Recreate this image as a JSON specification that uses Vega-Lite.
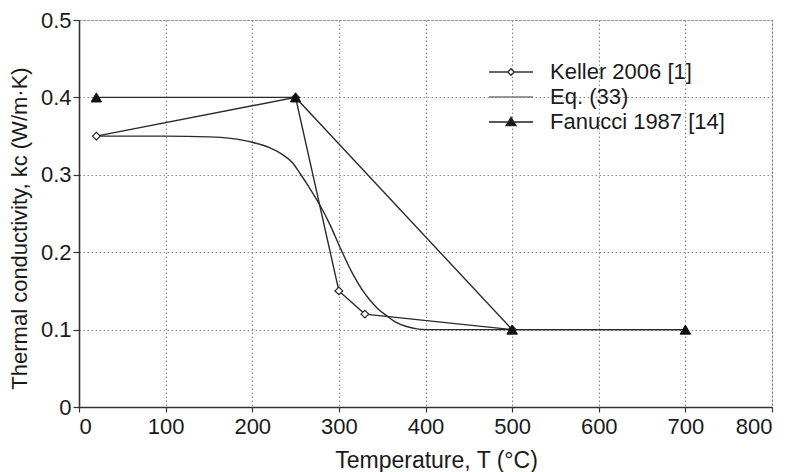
{
  "$schema": "https://vega.github.io/schema/vega-lite/v6.json",
  "width": 693,
  "height": 387,
  "autosize": {"type": "none"},
  "padding": {"left": 79, "top": 20, "right": 22, "bottom": 65},
  "background": "white",
  "config": {
    "font": "Liberation Sans",
    "view": {"stroke": "#555", "strokeDash": [2, 2], "strokeWidth": 1},
    "axis": {
      "labelFont": "Liberation Sans",
      "titleFont": "Liberation Sans",
      "labelColor": "#1a1a1a",
      "titleColor": "#1a1a1a",
      "labelFontSize": 22,
      "titleFontSize": 23,
      "titleFontWeight": "normal",
      "domainColor": "#333",
      "domainWidth": 1.6,
      "tickColor": "#333",
      "tickWidth": 1.2,
      "gridColor": "#888",
      "gridDash": [1.5, 2.5],
      "gridWidth": 1
    }
  },
  "datasets": {
    "curves": [
      {"series": "Keller 2006 [1]", "T": 20, "k": 0.35},
      {"series": "Keller 2006 [1]", "T": 250, "k": 0.40},
      {"series": "Keller 2006 [1]", "T": 300, "k": 0.15},
      {"series": "Keller 2006 [1]", "T": 330, "k": 0.12},
      {"series": "Keller 2006 [1]", "T": 500, "k": 0.10},
      {"series": "Fanucci 1987 [14]", "T": 20, "k": 0.40},
      {"series": "Fanucci 1987 [14]", "T": 250, "k": 0.40},
      {"series": "Fanucci 1987 [14]", "T": 500, "k": 0.10},
      {"series": "Fanucci 1987 [14]", "T": 700, "k": 0.10},
      {"series": "Eq. (33)", "T": 20, "k": 0.350},
      {"series": "Eq. (33)", "T": 100, "k": 0.350},
      {"series": "Eq. (33)", "T": 150, "k": 0.349},
      {"series": "Eq. (33)", "T": 175, "k": 0.347},
      {"series": "Eq. (33)", "T": 200, "k": 0.342},
      {"series": "Eq. (33)", "T": 220, "k": 0.335},
      {"series": "Eq. (33)", "T": 235, "k": 0.326},
      {"series": "Eq. (33)", "T": 247, "k": 0.315},
      {"series": "Eq. (33)", "T": 255, "k": 0.302},
      {"series": "Eq. (33)", "T": 265, "k": 0.285},
      {"series": "Eq. (33)", "T": 278, "k": 0.261},
      {"series": "Eq. (33)", "T": 290, "k": 0.235},
      {"series": "Eq. (33)", "T": 301, "k": 0.207},
      {"series": "Eq. (33)", "T": 316, "k": 0.172},
      {"series": "Eq. (33)", "T": 326, "k": 0.153},
      {"series": "Eq. (33)", "T": 336, "k": 0.138},
      {"series": "Eq. (33)", "T": 345, "k": 0.127},
      {"series": "Eq. (33)", "T": 355, "k": 0.118},
      {"series": "Eq. (33)", "T": 365, "k": 0.110},
      {"series": "Eq. (33)", "T": 378, "k": 0.104},
      {"series": "Eq. (33)", "T": 390, "k": 0.101},
      {"series": "Eq. (33)", "T": 400, "k": 0.100},
      {"series": "Eq. (33)", "T": 500, "k": 0.100},
      {"series": "Eq. (33)", "T": 700, "k": 0.100}
    ]
  },
  "data": {"name": "curves"},
  "encoding": {
    "x": {
      "field": "T",
      "type": "quantitative",
      "scale": {"domain": [0, 800], "nice": false},
      "axis": {
        "title": "Temperature, T (°C)",
        "values": [0, 100, 200, 300, 400, 500, 600, 700, 800],
        "tickSize": 5,
        "labelPadding": 4,
        "titleX": 357,
        "titleY": 60,
        "titleBaseline": "alphabetic",
        "titleAnchor": null
      }
    },
    "y": {
      "field": "k",
      "type": "quantitative",
      "scale": {"domain": [0, 0.5], "nice": false},
      "axis": {
        "title": "Thermal conductivity, kc (W/m·K)",
        "values": [0, 0.1, 0.2, 0.3, 0.4, 0.5],
        "labelExpr": "datum.value == 0 ? '0' : format(datum.value, '.1f')",
        "tickSize": 6,
        "labelPadding": 2,
        "titleFontSize": 22,
        "titleX": -53,
        "titleY": 208,
        "titleBaseline": "alphabetic",
        "titleAngle": -90
      }
    }
  },
  "layer": [
    {
      "transform": [{"filter": "datum.series === 'Eq. (33)'"}],
      "mark": {"type": "line", "interpolate": "monotone", "stroke": "#2a2a2a", "strokeWidth": 1.4},
      "encoding": {}
    },
    {
      "transform": [{"filter": "datum.series !== 'Eq. (33)'"}],
      "mark": {"type": "line", "stroke": "#2a2a2a", "strokeWidth": 1.4},
      "encoding": {"detail": {"field": "series"}}
    },
    {
      "transform": [{"filter": "datum.series === 'Keller 2006 [1]'"}],
      "mark": {"type": "point", "shape": "diamond", "size": 60, "filled": true, "fill": "white", "stroke": "#222", "strokeWidth": 1.2, "opacity": 1},
      "encoding": {}
    },
    {
      "transform": [{"filter": "datum.series === 'Fanucci 1987 [14]'"}],
      "mark": {"type": "point", "shape": "triangle-up", "size": 110, "filled": true, "fill": "#111", "stroke": "#111", "strokeWidth": 1, "opacity": 1},
      "encoding": {}
    },
    {
      "mark": {"type": "point", "opacity": 0, "strokeWidth": 1.5},
      "encoding": {
        "shape": {
          "field": "series",
          "type": "nominal",
          "scale": {
            "domain": ["Keller 2006 [1]", "Eq. (33)", "Fanucci 1987 [14]"],
            "range": [
              "M-3.67,0L-0.55,0M0.55,0L3.67,0M-0.55,0L0,-0.55L0.55,0L0,0.55Z",
              "M-3.67,0L3.67,0",
              "M-3.67,0L3.67,0M-0.8,0.6L0,-0.75L0.8,0.6Z"
            ]
          },
          "legend": {
            "title": null,
            "orient": "none",
            "legendX": 421,
            "legendY": 41,
            "padding": 0,
            "symbolSize": 144,
            "symbolOpacity": 1,
            "symbolStrokeWidth": 1.5,
            "labelFontSize": 22,
            "labelFont": "Liberation Sans",
            "labelColor": "#1a1a1a",
            "labelOffset": 28,
            "rowPadding": 3,
            "labelLimit": 400
          }
        },
        "fill": {
          "field": "series",
          "type": "nominal",
          "scale": {
            "domain": ["Keller 2006 [1]", "Eq. (33)", "Fanucci 1987 [14]"],
            "range": ["white", "white", "#111"]
          }
        },
        "stroke": {
          "field": "series",
          "type": "nominal",
          "scale": {
            "domain": ["Keller 2006 [1]", "Eq. (33)", "Fanucci 1987 [14]"],
            "range": ["#333", "#777", "#222"]
          }
        }
      }
    }
  ]
}
